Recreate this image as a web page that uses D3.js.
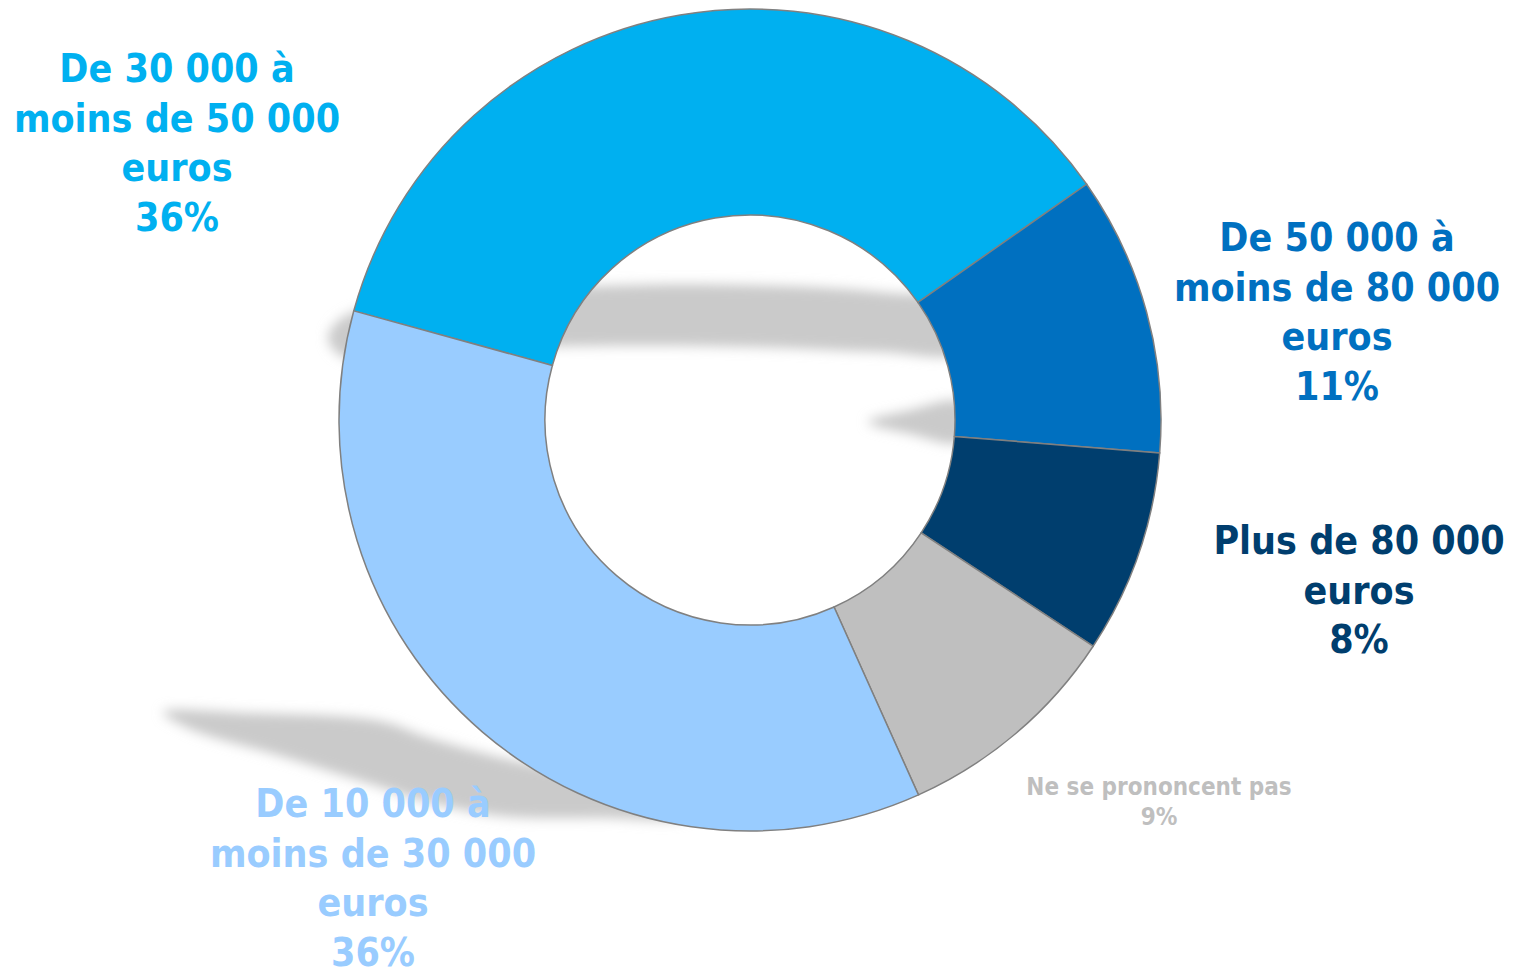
<!DOCTYPE html>
<html>
<head>
<meta charset="utf-8">
<script src="https://cdn.jsdelivr.net/npm/d3@7"></script>
<style>
  body { margin: 0; background: #fff; }
  svg text { font-family: "DejaVu Sans", Tahoma, sans-serif; font-stretch: condensed; font-weight: bold; }
</style>
</head>
<body>
<div id="chart"></div>
<script>
var width = 1513,
  height = 973;

// data
var categories = ["De 30 000 à moins de 50 000 euros", "De 50 000 à moins de 80 000 euros",
  "Plus de 80 000 euros", "Ne se prononcent pas", "De 10 000 à moins de 30 000 euros"];
var values = [36, 11, 8, 9, 36];
var labelLines = [
  ["De 30 000 à", "moins de 50 000", "euros"],
  ["De 50 000 à", "moins de 80 000", "euros"],
  ["Plus de 80 000", "euros"],
  ["Ne se prononcent pas"],
  ["De 10 000 à", "moins de 30 000", "euros"]
];
var colors = ["#00B0F0", "#0070C0", "#003E6E", "#BFBFBF", "#99CCFF"];

// layout of the labels (center x, first baseline, font size, line height)
var labelLayout = [
  { x: 177, y: 82, size: 39, lh: 49.5 },
  { x: 1337, y: 251, size: 39, lh: 49.5 },
  { x: 1359, y: 554, size: 39, lh: 49.5 },
  { x: 1159, y: 795, size: 24, lh: 30 },
  { x: 373, y: 817, size: 39, lh: 49.5 }
];

var cx = 750, cy = 420,
  outerR = 411, innerR = 205,
  startDeg = -74.6;

var svg = d3.select("#chart")
  .append("svg")
  .attr("width", width)
  .attr("height", height);

var defs = svg.append("defs");
defs.append("filter")
  .attr("id", "blur")
  .attr("x", "-20%").attr("y", "-50%")
  .attr("width", "140%").attr("height", "200%")
  .append("feGaussianBlur")
  .attr("stdDeviation", 6);

// soft shadow pieces behind the ring
var shadows = [
  [[328, 338], [345, 316], [450, 298], [600, 286], [750, 285], [880, 292], [960, 306], [960, 352], [880, 352], [750, 347], [600, 346], [450, 350], [345, 358]],
  [[868, 422], [910, 410], [960, 402], [960, 442], [910, 434]],
  [[163, 712], [250, 713], [380, 721], [430, 738], [520, 762], [640, 782], [700, 795], [690, 816], [600, 818], [500, 816], [420, 800], [380, 787], [280, 756], [190, 729]]
];

svg.append("g")
  .attr("filter", "url(#blur)")
  .selectAll("path")
  .data(shadows)
  .enter()
  .append("path")
  .attr("fill", "#cacaca")
  .attr("d", function (d) { return d3.line().curve(d3.curveCatmullRomClosed)(d); });

var pie = d3.pie()
  .sort(null)
  .startAngle(startDeg * Math.PI / 180)
  .endAngle(startDeg * Math.PI / 180 + 2 * Math.PI);

var arc = d3.arc()
  .innerRadius(innerR)
  .outerRadius(outerR);

var g = svg.append("g")
  .attr("transform", "translate(" + cx + "," + cy + ")");

g.selectAll("path")
  .data(pie(values))
  .enter()
  .append("path")
  .attr("d", arc)
  .attr("fill", function (d, i) { return colors[i]; })
  .attr("stroke", "#808080")
  .attr("stroke-width", 1.5);

// labels
var labels = svg.append("g")
  .selectAll("text")
  .data(categories)
  .enter()
  .append("text")
  .attr("text-anchor", "middle")
  .attr("fill", function (d, i) { return colors[i]; })
  .attr("font-size", function (d, i) { return labelLayout[i].size; });

labels.each(function (d, i) {
  var t = d3.select(this),
    lay = labelLayout[i],
    lines = labelLines[i].concat([values[i] + "%"]);
  lines.forEach(function (line, k) {
    t.append("tspan")
      .attr("x", lay.x)
      .attr("y", lay.y + k * lay.lh)
      .text(line);
  });
});
</script>
</body>
</html>
